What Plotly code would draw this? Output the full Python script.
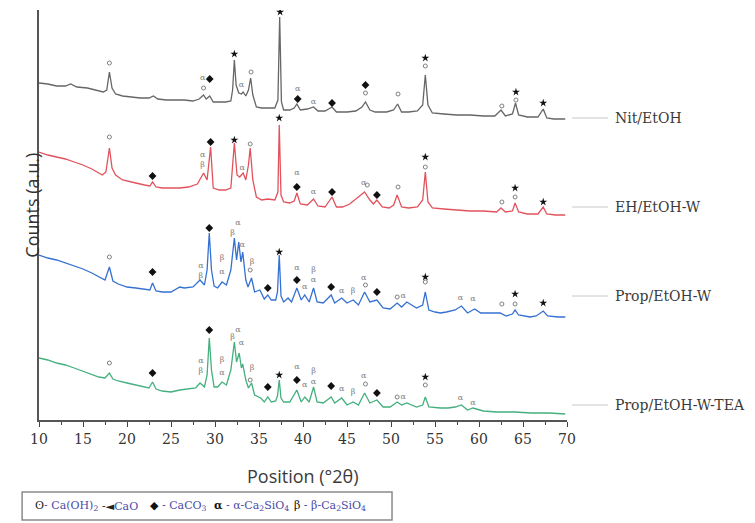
import plotly.graph_objects as go

# ---------------- data ----------------
samples = ["Nit/EtOH", "EH/EtOH-W", "Prop/EtOH-W", "Prop/EtOH-W-TEA"]
colors = ["#666666", "#e2525c", "#3571d2", "#43b07e"]

tt_nit = [10.0, 11.0, 12.0, 13.0, 13.6, 14.3, 15.5, 16.5, 17.3, 17.7, 18.0, 18.3, 18.7, 19.5, 20.5, 21.5, 22.5, 23.0, 23.5,
          24.5, 25.5, 26.5, 27.5, 28.2, 28.7, 29.0, 29.4, 29.8, 30.5, 31.2, 31.8, 32.0, 32.2, 32.4, 32.7, 33.0, 33.2, 33.5,
          33.8, 34.05, 34.3, 34.7, 35.3, 36.0, 36.8, 37.15, 37.35, 37.55, 37.8, 38.5, 39.0, 39.3, 39.7, 40.5, 41.2, 41.7,
          42.5, 43.3, 43.8, 45.0, 46.0, 46.7, 47.1, 47.6, 48.2, 49.5, 50.3, 50.75, 51.2, 52.0, 53.0, 53.6, 53.9, 54.2, 54.7,
          56.0, 57.5, 59.0, 60.5, 61.8, 62.5, 63.0, 63.8, 64.15, 64.5, 65.5, 66.7, 67.3, 67.7, 68.5, 69.8]
ct_nit = [337, 336, 334, 334, 336, 333, 332, 330, 328, 330, 348, 332, 326, 324, 323, 322, 322, 324, 321,
          320, 320, 320, 319, 321, 325, 321, 324, 318, 318, 318, 319, 330, 360, 335, 327, 326, 328, 324,
          330, 342, 325, 313, 312, 312, 312, 320, 403, 318, 310, 310, 312, 316, 310, 311, 313, 309,
          309, 313, 308, 308, 309, 313, 318, 310, 308, 308, 310, 316, 308, 308, 309, 315, 345, 315, 307,
          306, 305, 305, 304, 304, 310, 304, 306, 317, 305, 303, 303, 311, 302, 301, 301]

tt_eh = [10.0, 11.0, 12.0, 13.0, 14.0, 15.0, 16.0, 16.6, 17.2, 17.6, 18.0, 18.3, 18.7, 19.5, 20.3, 21.0, 22.0, 22.6, 22.9,
         23.3, 24.0, 25.0, 26.0, 27.0, 28.0, 28.7, 29.1, 29.5, 29.8, 30.5, 31.2, 31.8, 32.2, 32.5, 32.8, 33.2, 33.5, 33.8,
         34.0, 34.3, 34.7, 35.3, 36.0, 36.8, 37.15, 37.3, 37.5, 37.8, 38.5, 39.0, 39.3, 39.7, 40.5, 41.2, 41.7, 42.5, 43.3,
         43.8, 44.5, 45.3, 46.2, 47.0, 47.6, 48.0, 48.4, 49.0, 49.8, 50.3, 50.7, 51.2, 52.0, 53.0, 53.6, 53.9, 54.2, 54.7,
         56.0, 57.5, 59.0, 60.5, 62.0, 62.5, 63.0, 63.8, 64.1, 64.5, 65.5, 66.7, 67.3, 67.7, 68.7, 69.8]
ct_eh = [268, 265, 263, 261, 258, 255, 251, 248, 245, 248, 272, 252, 245, 240, 238, 237, 235, 234, 238,
         233, 232, 232, 232, 233, 236, 247, 240, 273, 232, 230, 230, 232, 277, 245, 243, 247, 240, 255,
         272, 240, 223, 220, 221, 220, 228, 295, 225, 218, 217, 219, 227, 216, 215, 221, 214, 213, 223,
         213, 213, 216, 222, 228, 220, 216, 220, 213, 212, 215, 225, 213, 212, 213, 220, 248, 218, 212,
         211, 210, 209, 209, 208, 212, 208, 209, 217, 208, 206, 206, 213, 206, 205, 205]

tt_prop = [10.0, 11.0, 12.0, 13.0, 14.0, 15.0, 16.0, 16.9, 17.5, 18.0, 18.4, 19.0, 20.0, 21.0, 22.0, 22.6, 22.9, 23.3,
           24.0, 25.0, 26.0, 26.5, 27.5, 28.3, 28.8, 29.1, 29.35, 29.6, 29.9, 30.3, 30.8, 31.3, 31.8, 32.2, 32.45,
           32.7, 32.95, 33.15, 33.5, 33.75, 34.15, 34.5, 35.1, 35.6, 36.0, 36.4, 36.9, 37.1, 37.3, 37.5, 37.8, 38.3,
           38.7, 39.3, 39.8, 40.2, 40.7, 41.2, 41.6, 42.3, 43.2, 43.6, 44.4, 45.0, 45.7, 46.3, 47.0, 47.6, 48.4,
           49.1, 49.9, 50.7, 51.2, 51.8, 52.9, 53.6, 53.9, 54.3, 55.0, 55.6, 56.3, 57.3, 58.0, 58.7, 59.5, 60.2,
           61.2, 62.4, 63.1, 63.8, 64.1, 64.5, 65.8, 66.5, 67.3, 67.8, 69.0, 69.8]
ct_prop = [165, 162, 160, 157, 154, 151, 147, 143, 140, 153, 139, 136, 133, 132, 131, 130, 137, 129,
           128, 128, 133, 132, 133, 140, 135, 150, 187, 150, 134, 132, 138, 135, 150, 182, 160,
           178, 158, 168, 140, 133, 142, 128, 130, 121, 125, 120, 120, 128, 165, 124, 118, 122,
           118, 132, 120, 125, 118, 132, 118, 117, 125, 117, 122, 117, 120, 115, 128, 118, 120,
           112, 111, 117, 113, 118, 112, 115, 128, 110, 108, 107, 108, 110, 114, 107, 111, 107,
           107, 107, 104, 106, 110, 105, 103, 104, 109, 104, 103, 103]

tt_tea = [10.0, 11.0, 12.0, 13.0, 14.0, 15.0, 16.0, 16.8, 17.5, 18.0, 18.4, 19.0, 20.0, 21.0, 22.0, 22.5, 22.9, 23.3,
          24.0, 25.0, 26.0, 27.0, 27.8, 28.3, 28.8, 29.1, 29.35, 29.6, 29.9, 30.3, 30.8, 31.3, 31.8, 32.2, 32.45,
          32.75, 33.0, 33.15, 33.5, 33.8, 34.15, 34.5, 35.2, 35.6, 36.0, 36.4, 36.9, 37.1, 37.3, 37.5, 37.8, 38.5,
          39.3, 39.8, 40.2, 40.7, 41.2, 41.6, 42.3, 43.2, 43.6, 44.4, 45.0, 45.7, 46.3, 47.0, 47.6, 48.4, 49.1,
          49.9, 50.7, 51.2, 51.8, 52.9, 53.6, 53.9, 54.3, 55.6, 56.5, 57.3, 58.0, 58.7, 59.3, 60.5, 62.0, 64.0,
          66.0, 68.0, 69.8]
ct_tea = [62, 60, 57, 55, 52, 49, 46, 43, 42, 47, 41, 39, 37, 35, 33, 32, 38, 31,
          29, 28, 30, 31, 32, 37, 33, 45, 82, 50, 33, 33, 38, 35, 50, 78, 58,
          67, 52, 56, 40, 32, 37, 25, 22, 18, 23, 18, 19, 24, 40, 22, 18, 18,
          30, 18, 23, 18, 33, 18, 17, 23, 17, 22, 15, 18, 15, 27, 17, 20, 13,
          13, 18, 15, 17, 13, 15, 23, 13, 12, 12, 13, 15, 10, 12, 9, 8, 8,
          7, 7, 6]

# phase markers (2-theta, height)
caoh2_x = [18.0, 28.7, 34.1, 47.1, 50.8, 53.9, 62.6, 64.2,
           18.0, 34.0, 47.3, 50.8, 53.9, 62.6, 64.1,
           18.0, 34.0, 47.1, 50.7, 53.9, 62.6, 64.1,
           18.0, 34.0, 47.1, 50.7, 53.9]
caoh2_y = [357, 332, 348, 327, 326, 354, 314, 320,
           283, 276, 235, 233, 253, 218, 223,
           163, 150, 135, 123, 138, 116, 116,
           57, 40, 36, 23, 35]
cao_x = [32.2, 37.4, 53.9, 64.2, 67.3,
         32.2, 37.3, 53.9, 64.1, 67.3,
         37.3, 53.9, 64.1, 67.3,
         37.3, 53.9]
cao_y = [366, 408, 362, 328, 317,
         280, 302, 263, 232, 218,
         168, 143, 126, 117,
         45, 43]
caco3_x = [29.4, 39.4, 43.3, 47.1,
           22.9, 29.5, 39.3, 43.3, 48.4,
           22.9, 29.35, 36.0, 39.3, 43.2, 48.4,
           22.9, 29.35, 36.0, 39.3, 43.2, 48.4]
caco3_y = [341, 321, 317, 335,
           244, 278, 233, 228, 225,
           148, 192, 132, 140, 133, 128,
           47, 90, 33, 40, 34, 27]
alpha_x = [28.6, 33.0, 39.4, 41.2,
           28.6, 33.1, 39.3, 41.2, 46.9,
           28.4, 30.8, 32.6, 33.1, 39.3, 40.2, 41.2, 44.4, 46.9, 51.4, 57.9, 59.3,
           28.4, 30.8, 32.6, 33.0, 39.3, 40.2, 41.2, 44.4, 46.9, 51.4, 57.9, 59.3]
alpha_y = [342, 335, 331, 318,
           265, 252, 247, 228, 237,
           154, 148, 197, 175, 152, 133, 140, 129, 142, 124, 122, 121,
           59, 47, 90, 77, 53, 35, 38, 31, 44, 23, 22, 17]
beta_x = [28.6,
          28.4, 30.8, 32.0, 34.2, 41.2, 45.7,
          28.4, 30.8, 32.0, 34.2, 41.2, 45.7]
beta_y = [255,
          144, 162, 187, 158, 150, 129,
          49, 60, 83, 52, 49, 28]

x_ticks = [10, 15, 20, 25, 30, 35, 40, 45, 50, 55, 60, 65, 70]
label_levels = [302, 213, 124, 15]

# ---------------- figure ----------------
fig = go.Figure()
for tt, ct, col in zip([tt_nit, tt_eh, tt_prop, tt_tea], [ct_nit, ct_eh, ct_prop, ct_tea], colors):
    fig.add_trace(go.Scatter(x=tt, y=ct, mode="lines", line=dict(color=col, width=1.3),
                             showlegend=False, hoverinfo="skip"))

fig.add_trace(go.Scatter(x=caoh2_x, y=caoh2_y, mode="markers", showlegend=False,
                         marker=dict(symbol="circle-open", size=4, color="#808080", line=dict(width=1))))
fig.add_trace(go.Scatter(x=cao_x, y=cao_y, mode="markers", showlegend=False,
                         marker=dict(symbol="star", size=6, color="#111111")))
fig.add_trace(go.Scatter(x=caco3_x, y=caco3_y, mode="markers", showlegend=False,
                         marker=dict(symbol="diamond", size=6, color="#111111")))
fig.add_trace(go.Scatter(x=alpha_x, y=alpha_y, mode="text", text=["α"] * len(alpha_x), showlegend=False,
                         textfont=dict(family="DejaVu Serif", size=8, color="#7a7a7a")))
fig.add_trace(go.Scatter(x=beta_x, y=beta_y, mode="text", text=["β"] * len(beta_x), showlegend=False,
                         textfont=dict(family="DejaVu Serif", size=8, color="#7a7a7a")))

# right-hand sample labels
for name, lvl in zip(samples, label_levels):
    fig.add_shape(type="line", xref="paper", yref="y", x0=1.0095, x1=1.0777, y0=lvl, y1=lvl,
                  line=dict(color="#c8c8c8", width=1))
    fig.add_annotation(xref="paper", yref="y", x=1.087, y=lvl, text=name, showarrow=False,
                       xanchor="left", yanchor="middle",
                       font=dict(family="DejaVu Serif", size=14, color="#3a3a3a"))

# axis titles
fig.add_annotation(xref="paper", yref="paper", x=-0.040, y=0.525, text="Counts (a.u.)", textangle=-90,
                   showarrow=False, font=dict(family="Open Sans", size=18, color="#333333"))
fig.add_annotation(xref="paper", yref="paper", x=0.5, y=-0.1366, text="Position (°2θ)", showarrow=False,
                   yanchor="middle", font=dict(family="Open Sans", size=18, color="#3a3a3a"))

# bottom phase key
fig.add_shape(type="rect", xref="paper", yref="paper", x0=-0.032, x1=0.6686, y0=-0.2439, y1=-0.1756,
              line=dict(color="#8a8a8a", width=1.5), fillcolor="white")
key_items = [
    (-0.0114, "<span style='color:#222'>ʘ</span>- Ca(OH)<sub>2</sub>"),
    (0.1155, "<span style='color:#222'>-◄</span>CaO"),
    (0.2064, "<span style='color:#111'>◆</span> - CaCO<sub>3</sub>"),
    (0.3277, "<span style='color:#111'><b>α</b></span> - α-Ca<sub>2</sub>SiO<sub>4</sub>"),
    (0.4792, "<span style='color:#111'>β</span> - β-Ca<sub>2</sub>SiO<sub>4</sub>"),
]
for kx, ktext in key_items:
    fig.add_annotation(xref="paper", yref="paper", x=kx, y=-0.2098, text=ktext, showarrow=False,
                       xanchor="left", yanchor="middle",
                       font=dict(family="DejaVu Serif", size=11, color="#4a4aa6"))

# page body has an 8px margin, so the figure is 8px smaller and margins shifted
fig.update_layout(
    width=747, height=515,
    margin=dict(l=31, r=188, t=2, b=103),
    paper_bgcolor="white", plot_bgcolor="white",
    xaxis=dict(range=[10, 70], tickvals=x_ticks, ticks="outside", ticklen=5, tickwidth=1.3,
               tickcolor="#444", showline=True, linecolor="#555", linewidth=1.5, showgrid=False,
               zeroline=False, tickfont=dict(family="DejaVu Serif", size=14, color="#333"),
               minor=dict(dtick=2.5, ticks="outside", ticklen=3, tickcolor="#444")),
    yaxis=dict(range=[0, 410], showticklabels=False, ticks="", showline=True, linecolor="#555",
               linewidth=1.5, showgrid=False, zeroline=False),
)

fig.write_html("out.html")
